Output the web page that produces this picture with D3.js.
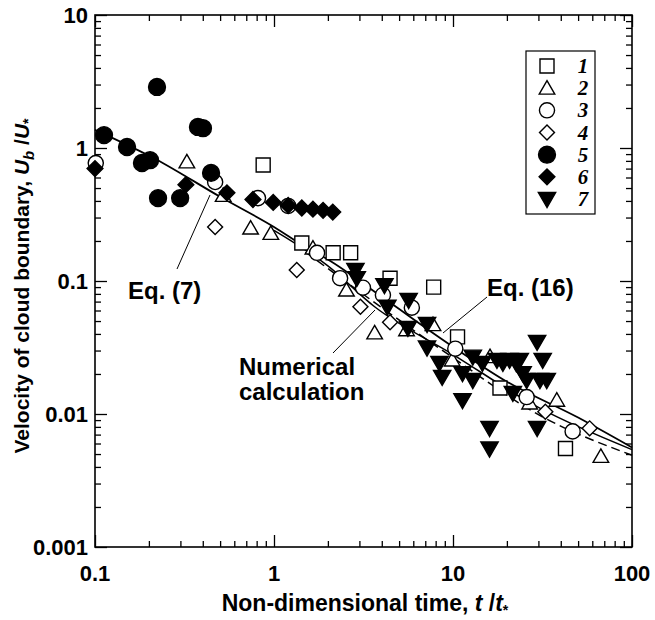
<!DOCTYPE html>
<html><head><meta charset="utf-8">
<script src="https://cdn.jsdelivr.net/npm/d3@7/dist/d3.min.js"></script>
<style>body{margin:0;background:#fff}svg{display:block}</style>
</head><body>
<svg id="c" width="655" height="620"></svg>
<script>
// ---- data ----
const xMajor = [0.1, 1, 10, 100];
const xMajorLabels = ["0.1", "1", "10", "100"];
const yMajor = [0.001, 0.01, 0.1, 1, 10];
const yMajorLabels = ["0.001", "0.01", "0.1", "1", "10"];
const seriesNames = ["1", "2", "3", "4", "5", "6", "7"];

const s1 = [[0.87,0.745],[1.43,0.193],[2.14,0.163],[2.68,0.163],[4.45,0.105],[7.8,0.09],[10.6,0.038],[18.3,0.0157],[42.5,0.0055]];
const s2 = [[0.326,0.786],[0.52,0.44],[0.74,0.25],[0.96,0.228],[1.65,0.177],[2.54,0.0855],[3.65,0.0407],[5.5,0.043],[7.73,0.047],[9.9,0.0255],[16.1,0.027],[26.8,0.0121],[38,0.0127],[67,0.0048]];
const s3 = [[0.101,0.77],[0.469,0.555],[0.814,0.42],[1.2,0.367],[1.74,0.163],[2.34,0.105],[3.14,0.089],[4.06,0.0785],[5.89,0.063],[10.3,0.031],[25.8,0.0134],[46.6,0.0074]];
const s4 = [[0.469,0.255],[1.34,0.121],[3.04,0.064],[4.45,0.049],[32.8,0.0104],[58,0.0078]];
const s5 = [[0.1123,1.25],[0.151,1.017],[0.183,0.771],[0.203,0.81],[0.222,2.88],[0.376,1.44],[0.401,1.41],[0.445,0.65],[0.225,0.42],[0.299,0.42]];
const s6 = [[0.1,0.70],[0.322,0.53],[0.546,0.46],[0.763,0.41],[0.99,0.39],[1.2,0.37],[1.43,0.354],[1.65,0.347],[1.88,0.34],[2.13,0.33]];
const s7 = [[2.85,0.121],[2.9,0.105],[4.14,0.093],[4.3,0.064],[5.65,0.072],[5.6,0.0444],[7.16,0.0475],[7.16,0.0316],[8.4,0.0242],[8.7,0.019],[11.3,0.0203],[11.3,0.0127],[12.9,0.027],[12.9,0.018],[14.6,0.0242],[16,0.00785],[16,0.0055],[17.6,0.0255],[19,0.0242],[20.7,0.0255],[22.6,0.024],[23.6,0.0255],[24.5,0.0203],[25.8,0.018],[21.6,0.0144],[29.5,0.0348],[31.7,0.0255],[30.6,0.018],[33.4,0.018],[29.5,0.00785]];

const eq7 = [[0.1,1.37],[0.22,0.82],[0.5,0.43],[1,0.255],[1.5,0.18],[2,0.145],[4,0.076],[10,0.032],[20,0.0175],[50,0.0094],[100,0.0056]];
const numerical = [[1,0.24],[2,0.13],[3.65,0.064],[10,0.028],[30,0.0112],[100,0.0054]];
const eq16 = [[1.5,0.165],[4,0.063],[10,0.0265],[30,0.0099],[100,0.0049]];

// ---- layout ----
const L = 95, R = 632, T = 15, B = 547;
const svg = d3.select("#c");
const x = d3.scaleLog().domain([0.1, 100]).range([L, R]);
const y = d3.scaleLog().domain([0.001, 10]).range([B, T]);

function minors(lo, hi) {
  const out = [];
  for (let d = lo; d < hi; d *= 10) for (let k = 2; k <= 9; k++) out.push(d * k);
  return out;
}
const xMinor = minors(0.1, 100), yMinor = minors(0.001, 10);
const font = "'Liberation Sans', Arial, sans-serif";

function ax(gen, tr, vals, size) {
  const g = svg.append("g").attr("transform", tr)
    .call(gen.tickValues(vals).tickSize(size).tickFormat(""));
  g.select(".domain").remove();
  g.selectAll("line").attr("stroke", "#000").attr("stroke-width", 1.3);
}
const mj = 12, mn = 6;
ax(d3.axisBottom(x), `translate(0,${B})`, xMajor, -mj);
ax(d3.axisBottom(x), `translate(0,${B})`, xMinor, -mn);
ax(d3.axisTop(x), `translate(0,${T})`, xMajor, -mj);
ax(d3.axisTop(x), `translate(0,${T})`, xMinor, -mn);
ax(d3.axisLeft(y), `translate(${L},0)`, yMajor, -mj);
ax(d3.axisLeft(y), `translate(${L},0)`, yMinor, -mn);
ax(d3.axisRight(y), `translate(${R},0)`, yMajor, -mj);
ax(d3.axisRight(y), `translate(${R},0)`, yMinor, -mn);

svg.append("rect").attr("x", L).attr("y", T).attr("width", R - L).attr("height", B - T)
  .attr("fill", "none").attr("stroke", "#000").attr("stroke-width", 1.6);

// tick labels
svg.append("g").selectAll("text").data(xMajor).join("text")
  .attr("x", d => x(d)).attr("y", 581).attr("text-anchor", "middle")
  .attr("font-family", font).attr("font-weight", "bold").attr("font-size", 22)
  .text((d, i) => xMajorLabels[i]);
svg.append("g").selectAll("text").data(yMajor).join("text")
  .attr("x", 88).attr("y", d => y(d) + 8).attr("text-anchor", "end")
  .attr("font-family", font).attr("font-weight", "bold").attr("font-size", 22)
  .text((d, i) => yMajorLabels[i]);

// axis titles
const xt = svg.append("text").attr("x", 365).attr("y", 611).attr("text-anchor", "middle")
  .attr("font-family", font).attr("font-weight", "bold").attr("font-size", 23);
xt.append("tspan").text("Non-dimensional time, ");
xt.append("tspan").attr("font-style", "italic").text("t");
xt.append("tspan").text(" /");
xt.append("tspan").attr("font-style", "italic").text("t");
xt.append("tspan").attr("font-size", 14).attr("dy", 4).text("*");

const yt = svg.append("text").attr("transform", "translate(29,286) rotate(-90)").attr("text-anchor", "middle")
  .attr("font-family", font).attr("font-weight", "bold").attr("font-size", 21);
yt.append("tspan").text("Velocity of cloud boundary, ");
yt.append("tspan").attr("font-style", "italic").text("U");
yt.append("tspan").attr("font-style", "italic").attr("font-size", 15).attr("dy", 5).text("b");
yt.append("tspan").attr("dy", -5).text(" /");
yt.append("tspan").attr("font-style", "italic").text("U");
yt.append("tspan").attr("font-size", 14).attr("dy", 4).text("*");

// lines
const line = d3.line().x(d => x(d[0])).y(d => y(d[1])).curve(d3.curveMonotoneX);
const lg = svg.append("g").attr("fill", "none").attr("stroke", "#000");
lg.append("path").attr("d", line(eq7)).attr("stroke-width", 1.8);
lg.append("path").attr("d", line(numerical)).attr("stroke-width", 1.5);
lg.append("path").attr("d", line(eq16)).attr("stroke-width", 1.5).attr("stroke-dasharray", "9,5");

// markers
const sym = {
  sq: d3.symbol(d3.symbolSquare, 196)(),
  tri: d3.symbol(d3.symbolTriangle, 105)(),
  cir: d3.symbol(d3.symbolCircle, 180)(),
  dia: d3.symbol(d3.symbolSquare, 112)(),
  fcir: d3.symbol(d3.symbolCircle, 225)(),
  fdia: d3.symbol(d3.symbolSquare, 125)(),
  dtri: d3.symbol(d3.symbolTriangle, 130)()
};
const styles = [
  {d: sym.sq, fill: "#fff", rot: 0, dy: 0},
  {d: sym.tri, fill: "#fff", rot: 0, dy: 1.5},
  {d: sym.cir, fill: "#fff", rot: 0, dy: 0},
  {d: sym.dia, fill: "#fff", rot: 45, dy: 0},
  {d: sym.fcir, fill: "#000", rot: 0, dy: 0},
  {d: sym.fdia, fill: "#000", rot: 45, dy: 0},
  {d: sym.dtri, fill: "#000", rot: 180, dy: -1.5}
];
const allSeries = [s1, s2, s3, s4, s5, s6, s7];
const order = [0, 1, 3, 2, 5, 4, 6];
order.forEach(i => {
  const st = styles[i];
  svg.append("g").selectAll("path").data(allSeries[i]).join("path")
    .attr("d", st.d)
    .attr("transform", d => `translate(${x(d[0])},${y(d[1]) + st.dy}) rotate(${st.rot})`)
    .attr("fill", st.fill).attr("stroke", "#000").attr("stroke-width", 1.4);
});

// annotations
const ann = svg.append("g").attr("font-family", font).attr("font-weight", "bold").attr("font-size", 24);
ann.append("text").attr("x", 128).attr("y", 299).text("Eq. (7)");
ann.append("text").attr("x", 239).attr("y", 375).text("Numerical");
ann.append("text").attr("x", 239).attr("y", 400).text("calculation");
ann.append("text").attr("x", 487).attr("y", 296).text("Eq. (16)");
const pl = svg.append("g").attr("stroke", "#000").attr("stroke-width", 1);
pl.append("line").attr("x1", 177).attr("y1", 269).attr("x2", 210).attr("y2", 195);
pl.append("line").attr("x1", 333).attr("y1", 353).attr("x2", 375).attr("y2", 310);
pl.append("line").attr("x1", 487).attr("y1", 297).attr("x2", 443).attr("y2", 333);

// legend
const leg = svg.append("g");
leg.append("rect").attr("x", 526).attr("y", 51).attr("width", 69).attr("height", 163)
  .attr("fill", "#fff").attr("stroke", "#000").attr("stroke-width", 1.2);
const legY = d3.scaleLinear().domain([0, 6]).range([66, 199]);
seriesNames.forEach((n, i) => {
  const st = styles[i];
  leg.append("path").attr("d", st.d)
    .attr("transform", `translate(547,${legY(i) + st.dy}) rotate(${st.rot})`)
    .attr("fill", st.fill).attr("stroke", "#000").attr("stroke-width", 1.4);
  leg.append("text").attr("x", 583).attr("y", legY(i) + 7).attr("text-anchor", "middle")
    .attr("font-family", "'Liberation Serif', 'Times New Roman', serif")
    .attr("font-style", "italic").attr("font-weight", "bold").attr("font-size", 21).text(n);
});
</script>
</body></html>
